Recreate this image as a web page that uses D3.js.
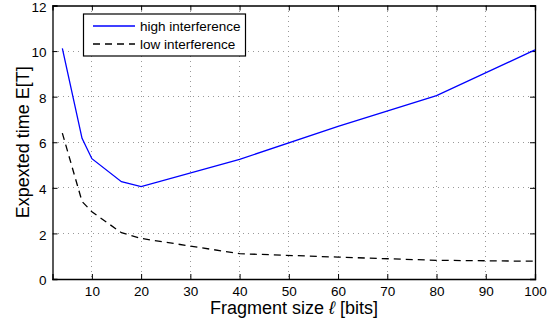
<!DOCTYPE html>
<html><head><meta charset="utf-8">
<script src="https://cdn.jsdelivr.net/npm/d3@7"></script>
<style>body{margin:0;background:#fff}svg{display:block;font-family:"Liberation Sans",Arial,sans-serif}</style>
</head><body><svg id="c" width="550" height="327"></svg>
<script>
const fragSize = [4, 8, 10, 16, 20, 40, 60, 80, 100];
const highInterference = [10.12, 6.17, 5.28, 4.27, 4.05, 5.25, 6.7, 8.05, 10.05];
const lowInterference = [6.4, 3.4, 2.95, 2.03, 1.78, 1.11, 0.96, 0.82, 0.78];
const xTicks = [10, 20, 30, 40, 50, 60, 70, 80, 90, 100];
const yTicks = [0, 2, 4, 6, 8, 10, 12];
const seriesNames = ["high interference", "low interference"];

const svg = d3.select("#c");
const L = 52.5, R = 535, T = 5.5, B = 279;
const x = d3.scaleLinear().domain([2, 100]).range([L, R]);
const y = d3.scaleLinear().domain([0, 12]).range([B, T]);

// grid
const g = svg.append("g");
g.selectAll(".gx").data(xTicks.filter(d => d < 100)).enter().append("line")
  .attr("x1", d => x(d)).attr("x2", d => x(d)).attr("y1", T).attr("y2", B)
  .attr("stroke", "#999").attr("stroke-width", 1).attr("stroke-dasharray", "1,4")
  .attr("shape-rendering", "crispEdges");
g.selectAll(".gy").data(yTicks.filter(d => d > 0 && d < 12)).enter().append("line")
  .attr("x1", L).attr("x2", R).attr("y1", d => y(d)).attr("y2", d => y(d))
  .attr("stroke", "#999").attr("stroke-width", 1).attr("stroke-dasharray", "1,4")
  .attr("shape-rendering", "crispEdges");

// axes
const fs = 13.5;
const xa = svg.append("g").attr("transform", `translate(0,${B})`)
  .call(d3.axisBottom(x).tickValues(xTicks).tickSize(-5).tickPadding(7.5));
const xa2 = svg.append("g").attr("transform", `translate(0,${T})`)
  .call(d3.axisTop(x).tickValues(xTicks).tickSize(-5).tickFormat(""));
const ya = svg.append("g").attr("transform", `translate(${L},0)`)
  .call(d3.axisLeft(y).tickValues(yTicks).tickSize(-5).tickPadding(6));
const ya2 = svg.append("g").attr("transform", `translate(${R},0)`)
  .call(d3.axisRight(y).tickValues(yTicks).tickSize(-5).tickFormat(""));
[xa, xa2, ya, ya2].forEach(a => {
  a.select(".domain").attr("stroke", "#000").attr("stroke-width", 1.3);
  a.selectAll(".tick line").attr("stroke", "#000").attr("stroke-width", 1);
  a.selectAll("text").attr("font-size", fs).attr("fill", "#000")
    .attr("font-family", "Liberation Sans, Arial, sans-serif");
});
ya.selectAll("text").attr("dy", "0.42em");

// lines
const line = d3.line().x((d, i) => x(fragSize[i])).y(d => y(d));
svg.append("path").datum(highInterference).attr("d", line)
  .attr("fill", "none").attr("stroke", "#0000ff").attr("stroke-width", 1.3);
svg.append("path").datum(lowInterference).attr("d", line)
  .attr("fill", "none").attr("stroke", "#000").attr("stroke-width", 1.3)
  .attr("stroke-dasharray", "7,5");

// legend
const lg = svg.append("g");
lg.append("rect").attr("x", 83.5).attr("y", 14).attr("width", 162).attr("height", 42)
  .attr("fill", "#fff").attr("stroke", "#000").attr("stroke-width", 1.2);
const styles = [{c: "#0000ff", d: null}, {c: "#000", d: "7,5"}];
seriesNames.forEach((n, i) => {
  const yy = 26 + i * 18;
  lg.append("line").attr("x1", 93).attr("x2", 135).attr("y1", yy).attr("y2", yy)
    .attr("stroke", styles[i].c).attr("stroke-width", 1.3)
    .attr("stroke-dasharray", styles[i].d);
  lg.append("text").attr("x", 140).attr("y", yy + 4.5).attr("font-size", 13.5).text(n);
});

// axis labels
const xl = svg.append("text").attr("x", 294).attr("y", 314)
  .attr("text-anchor", "middle").attr("font-size", 18);
xl.append("tspan").text("Fragment size ");
xl.append("tspan").attr("font-style", "italic").text("ℓ");
xl.append("tspan").text(" [bits]");
svg.append("text").attr("transform", `translate(29,${(T + B) / 2}) rotate(-90)`)
  .attr("text-anchor", "middle").attr("font-size", 18).text("Expexted time E[T]");
</script></body></html>
